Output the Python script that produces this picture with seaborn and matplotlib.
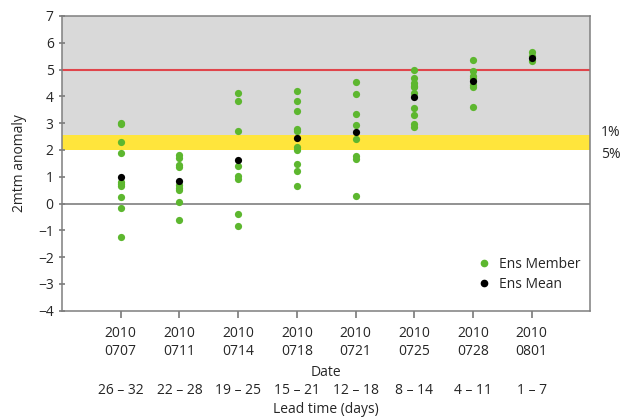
import matplotlib
matplotlib.use("Agg")
import matplotlib.pyplot as plt
import matplotlib.transforms as mtransforms
from matplotlib.lines import Line2D
import seaborn as sns
import pandas as pd

dates = ["0707", "0711", "0714", "0718", "0721", "0725", "0728", "0801"]
lead_times = ["26 \u2013 32", "22 \u2013 28", "19 \u2013 25", "15 \u2013 21",
              "12 \u2013 18", "8 \u2013 14", "4 \u2013 11", "1 \u2013 7"]

m0707 = [3.02, 2.96, 2.31, 1.89, 0.80, 0.72, 0.65, 0.25, -0.17, -1.23]
m0711 = [1.80, 1.70, 1.45, 1.37, 0.70, 0.60, 0.50, 0.07, -0.60]
m0714 = [4.13, 3.82, 2.72, 1.42, 1.02, 0.90, -0.37, -0.85]
m0718 = [4.19, 3.84, 3.47, 2.80, 2.70, 2.10, 2.00, 1.49, 1.22, 0.67]
m0721 = [4.55, 4.07, 3.36, 2.95, 2.41, 1.77, 1.67, 0.27]
m0725 = [4.99, 4.70, 4.50, 4.40, 4.35, 4.13, 3.58, 3.30, 2.97, 2.85]
m0728 = [5.34, 4.95, 4.75, 4.68, 4.44, 4.35, 3.62]
m0801 = [5.66, 5.50, 5.31]
members = [m0707, m0711, m0714, m0718, m0721, m0725, m0728, m0801]

ens_mean = [1.00, 0.84, 1.64, 2.44, 2.66, 3.96, 4.59, 5.44]

threshold_5pct = 2.0
threshold_1pct = 2.56
red_level = 5.0

sns.set_theme(style="white")
plt.rcParams["font.family"] = ["Open Sans", "DejaVu Sans"]

cats = ["2010\n" + d for d in dates]
mem_df = pd.DataFrame({
    "date": [c for c, vals in zip(cats, members) for _ in vals],
    "value": [v for vals in members for v in vals],
})
mean_df = pd.DataFrame({"date": cats, "value": ens_mean})

fig = plt.figure(figsize=(6.29, 4.20), dpi=100)
ax = fig.add_axes([0.0986, 0.260, 0.840, 0.702])

green = "#5db72f"
ax.axhspan(threshold_1pct, 7, color="#d9d9d9", zorder=0, lw=0)
ax.axhspan(threshold_5pct, threshold_1pct, color="#ffe53c", zorder=0, lw=0)
ax.axhline(red_level, color="#e0454b", lw=1.5, zorder=1)
ax.axhline(0, color="#7f7f7f", lw=1.2, zorder=1)

sns.stripplot(data=mem_df, x="date", y="value", order=cats, jitter=False,
              color=green, size=5.2, linewidth=0, ax=ax, zorder=3)
sns.stripplot(data=mean_df, x="date", y="value", order=cats, jitter=False,
              color="black", size=5.2, linewidth=0, ax=ax, zorder=4)

ax.set_xlim(-1, 8)
ax.set_ylim(-4, 7)
ax.set_yticks(range(-4, 8))
ax.tick_params(axis="y", labelsize=10, length=4, direction="inout",
               color="#7f7f7f", left=True, pad=4)
ax.tick_params(axis="x", labelsize=10, length=5, direction="out",
               color="#7f7f7f", bottom=True, pad=6)
for lab in ax.get_xticklabels():
    lab.set_linespacing(1.3)
for s in ax.spines.values():
    s.set_color("#7f7f7f")
    s.set_linewidth(1.1)

ax.set_ylabel("2mtm anomaly", fontsize=10, labelpad=8)
ax.set_xlabel("Date", fontsize=10, labelpad=4)

trans = mtransforms.blended_transform_factory(ax.transData, ax.transAxes)
for i, lt in enumerate(lead_times):
    ax.text(i, -0.27, lt, transform=trans, ha="center", va="center", fontsize=10)
ax.text(0.5, -0.335, "Lead time (days)", transform=ax.transAxes,
        ha="center", va="center", fontsize=10)

tr2 = mtransforms.blended_transform_factory(ax.transAxes, ax.transData)
ax.text(1.02, threshold_1pct + 0.09, "1%", transform=tr2, ha="left", va="center", fontsize=10)
ax.text(1.02, threshold_5pct - 0.17, "5%", transform=tr2, ha="left", va="center", fontsize=10)

handles = [
    Line2D([], [], marker="o", ls="", color=green, markersize=4.5),
    Line2D([], [], marker="o", ls="", color="black", markersize=4.5),
]
ax.legend(handles, ["Ens Member", "Ens Mean"], loc="lower right",
          bbox_to_anchor=(1.0, 0.03), frameon=False, fontsize=10,
          handletextpad=0.1, labelspacing=0.4, borderaxespad=0.3)

fig.savefig("out.png", dpi=100)
